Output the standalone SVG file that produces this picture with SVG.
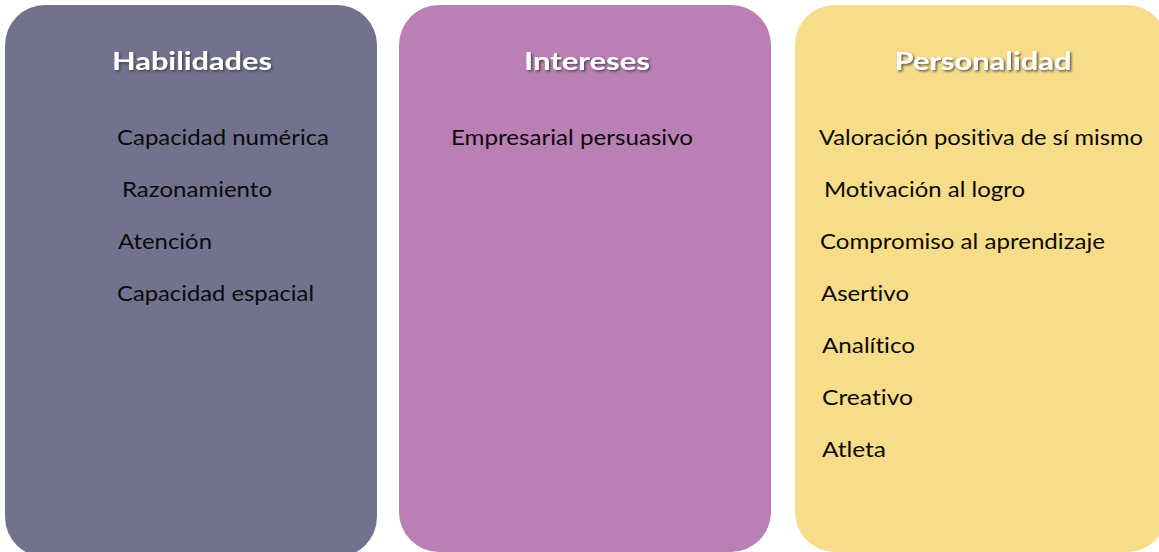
<svg xmlns="http://www.w3.org/2000/svg" width="1159" height="552" viewBox="0 0 1159 552">
  <defs>
    <filter id="shadow" x="-10%" y="-30%" width="120%" height="160%">
      <feDropShadow dx="1.5" dy="1.5" stdDeviation="0.8" flood-color="#3a3a3a" flood-opacity="0.85"/>
    </filter>
  </defs>
  <style>
    .title { font-family: Lato, "Liberation Sans", sans-serif; font-weight: bold; font-size: 25px; fill: #ffffff; text-anchor: middle; font-variant-ligatures: none; }
    .item { font-family: Lato, "Liberation Sans", sans-serif; font-size: 22px; fill: #0a0a0a; font-variant-ligatures: none; }
  </style>
  <rect width="1159" height="552" fill="#ffffff"/>
  <g id="habilidades">
    <rect x="5" y="5" width="372" height="552" rx="40" ry="40" fill="#72728f"/>
    <text class="title" x="192" y="70" textLength="160" lengthAdjust="spacingAndGlyphs" filter="url(#shadow)">Habilidades</text>
    <text class="item" x="117" y="145" textLength="212" lengthAdjust="spacingAndGlyphs">Capacidad numérica</text>
    <text class="item" x="122" y="197" textLength="150" lengthAdjust="spacingAndGlyphs">Razonamiento</text>
    <text class="item" x="118" y="249" textLength="94" lengthAdjust="spacingAndGlyphs">Atención</text>
    <text class="item" x="117" y="301" textLength="197" lengthAdjust="spacingAndGlyphs">Capacidad espacial</text>
  </g>
  <g id="intereses">
    <rect x="399" y="5" width="372" height="547" rx="40" ry="40" fill="#ba7fb5"/>
    <text class="title" x="587" y="70" textLength="126" lengthAdjust="spacingAndGlyphs" filter="url(#shadow)">Intereses</text>
    <text class="item" x="451" y="145" textLength="242" lengthAdjust="spacingAndGlyphs">Empresarial persuasivo</text>
  </g>
  <g id="personalidad">
    <rect x="795" y="5" width="372" height="547" rx="40" ry="40" fill="#f7dc8a"/>
    <text class="title" x="983" y="70" textLength="177" lengthAdjust="spacingAndGlyphs" filter="url(#shadow)">Personalidad</text>
    <text class="item" x="819" y="145" textLength="324" lengthAdjust="spacingAndGlyphs">Valoración positiva de sí mismo</text>
    <text class="item" x="824" y="197" textLength="201" lengthAdjust="spacingAndGlyphs">Motivación al logro</text>
    <text class="item" x="820" y="249" textLength="285" lengthAdjust="spacingAndGlyphs">Compromiso al aprendizaje</text>
    <text class="item" x="821" y="301" textLength="88" lengthAdjust="spacingAndGlyphs">Asertivo</text>
    <text class="item" x="822" y="353" textLength="93" lengthAdjust="spacingAndGlyphs">Analítico</text>
    <text class="item" x="822" y="405" textLength="91" lengthAdjust="spacingAndGlyphs">Creativo</text>
    <text class="item" x="822" y="457" textLength="64" lengthAdjust="spacingAndGlyphs">Atleta</text>
  </g>
  <g id="connectors"/>
</svg>
